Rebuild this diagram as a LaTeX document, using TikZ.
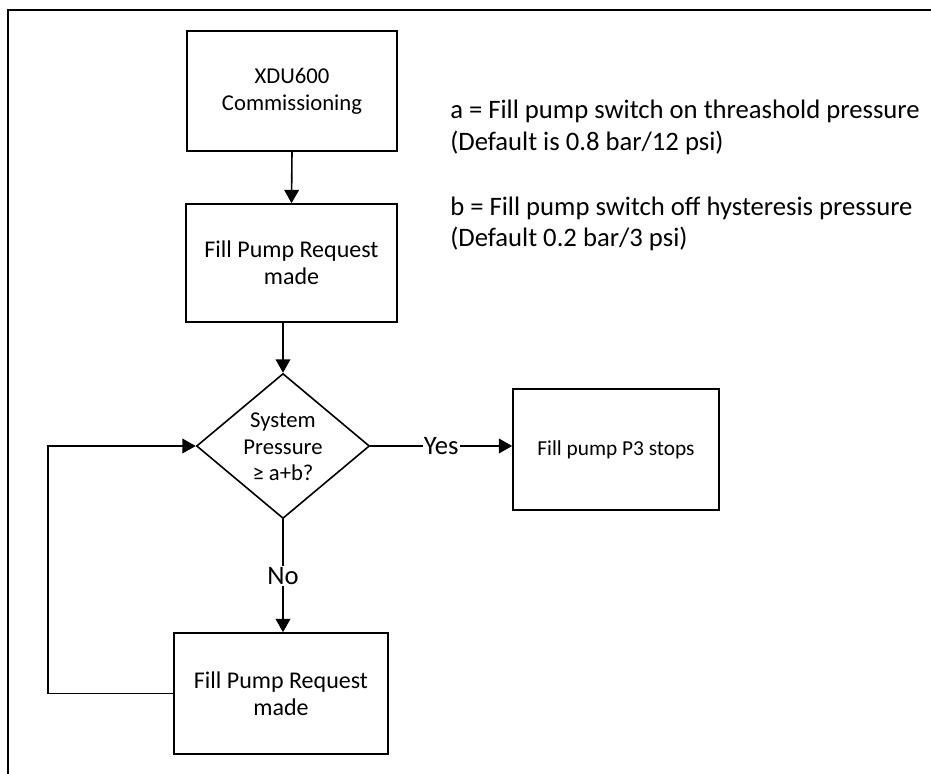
\documentclass[tikz,border=0pt]{standalone}
\usepackage{fontspec}
\setmainfont{Carlito}
\usetikzlibrary{shapes.geometric,arrows.meta}
\tikzset{
  box/.style={draw, line width=1.2pt, inner sep=0pt, align=center},
  dia/.style={draw, diamond, line width=1.2pt, inner sep=0pt},
  arr/.style={line width=1.2pt, -{Triangle[length=10pt,width=11pt]}},
  lbl/.style={fill=white, inner sep=1pt, font=\fontsize{20}{24}\selectfont},
  note/.style={anchor=base west, inner sep=0pt, font=\fontsize{20}{24}\selectfont}
}
\begin{document}
\begin{tikzpicture}[x=0.75pt,y=-0.75pt]
\useasboundingbox (0,0) rectangle (931,774);
% frame
\draw[line width=2pt] (8,774) -- (8,10) -- (931,10);
% nodes
\node[box, minimum width=157.5pt, minimum height=90pt, font=\fontsize{17}{20}\selectfont] (b1) at (292,91) {XDU600\\Commissioning};
\node[box, minimum width=158pt, minimum height=88.5pt, font=\fontsize{18}{20.5}\selectfont] (b2) at (291.5,263) {Fill Pump Request\\made};
\node[dia, minimum width=129.75pt, minimum height=108.75pt] (d) at (283,446) {};
\node[align=center, inner sep=0pt, font=\fontsize{17}{20}\selectfont] (dt) at (283,447) {System\\Pressure\\≥ a+b?};
\node[box, minimum width=154.5pt, minimum height=90.75pt, font=\fontsize{16}{19}\selectfont] (b3) at (616,449.5) {Fill pump P3 stops};
\node[box, minimum width=160.5pt, minimum height=90.75pt, font=\fontsize{18}{20.5}\selectfont] (b4) at (281,693.5) {Fill Pump Request\\made};
\coordinate (lp) at (48,693.5);
% notes
\node[note] (n1) at (450,118) {a = Fill pump switch on threashold pressure};
\node[note] (n2) at (450,150) {(Default is 0.8 bar/12 psi)};
\node[note] (n3) at (450,215) {b = Fill pump switch off hysteresis pressure};
\node[note] (n4) at (450,246) {(Default 0.2 bar/3 psi)};
% connectors
\draw[arr] (b1.south) -- (b2.north);
\draw[arr] (b2.south -| d.north) -- (d.north);
\draw[arr] (d.east) -- node[lbl] (yes) {Yes} (d.east -| b3.west);
\draw[arr] (d.south) -- node[lbl] (no) {No} (d.south |- b4.north);
\draw[arr] (b4.west) -- (lp) |- (d.west);
\end{tikzpicture}
\end{document}
